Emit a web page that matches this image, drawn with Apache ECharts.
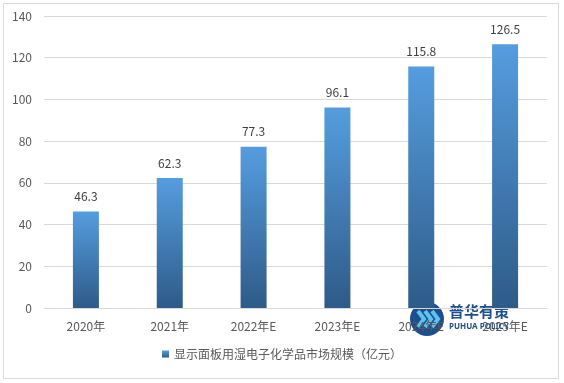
<!DOCTYPE html>
<html><head><meta charset="utf-8">
<script src="https://cdn.jsdelivr.net/npm/echarts@6/dist/echarts.min.js"></script>
<style>html,body{margin:0;padding:0;background:#fff}#c{width:564px;height:383px}</style>
</head><body><div id="c"></div>
<script>
const categories = ['2020年','2021年','2022年E','2023年E','2024年E','2025年E'];
const values = [46.3, 62.3, 77.3, 96.1, 115.8, 126.5];
const seriesName = '显示面板用湿电子化学品市场规模（亿元）';
const font = '"Microsoft YaHei","Noto Sans CJK SC",sans-serif';
const chart = echarts.init(document.getElementById('c'));
chart.setOption({
  animation: false,
  textStyle: {fontFamily: font},
  graphic: [
    {type:'rect', shape:{x:3.5,y:3.5,width:555,height:375}, style:{fill:'none', stroke:'#d9d9d9', lineWidth:1}, z:-1},
    {type:'group', left:410, top:302, z:100, children:[
      {type:'circle', shape:{cx:17,cy:17,r:17}, style:{fill:'#1d4f8f'}},
      {type:'polyline', shape:{points:[[8,9],[14,17],[8,25]]}, style:{stroke:'#5cc3ee', lineWidth:4, fill:'none'}},
      {type:'polyline', shape:{points:[[15,9],[21,17],[15,25]]}, style:{stroke:'#5cc3ee', lineWidth:4, fill:'none'}},
      {type:'polyline', shape:{points:[[22,9],[28,17],[22,25]]}, style:{stroke:'#5cc3ee', lineWidth:4, fill:'none'}},
      {type:'text', left:39, top:2, style:{text:'普华有策', fill:'#1d4f8f', font:'bold 15px "Noto Sans CJK SC"'}},
      {type:'text', left:39, top:21, style:{text:'PUHUA POLICY', fill:'#1d4f8f', font:'bold 8px "Noto Sans"'}}
    ]}
  ],
  grid: {left:44, right:17, top:16, bottom:75, containLabel:false},
  legend: {
    bottom: 18, left: 'center', icon: 'rect', itemWidth: 7, itemHeight: 7, itemGap: 5,
    textStyle: {color:'#595959', fontSize:12, fontFamily: font},
    data: [seriesName]
  },
  xAxis: {
    type:'category', data: categories,
    axisLine:{lineStyle:{color:'#d9d9d9'}}, axisTick:{show:false},
    axisLabel:{color:'#595959', fontSize:12, margin:12, fontFamily: font}
  },
  yAxis: {
    type:'value', min:0, max:140, interval:20,
    axisLine:{show:false}, axisTick:{show:false},
    splitLine:{lineStyle:{color:'#d9d9d9'}},
    axisLabel:{color:'#595959', fontSize:12, margin:12, fontFamily: font}
  },
  series: [{
    name: seriesName, type:'bar', data: values, barWidth: 26,
    itemStyle: {color: new echarts.graphic.LinearGradient(0,0,0,1,[{offset:0,color:'#559ddf'},{offset:1,color:'#2e5b88'}])},
    label: {show:true, position:'top', distance:9, color:'#404040', fontSize:12, fontFamily: font}
  }]
});
</script></body></html>
